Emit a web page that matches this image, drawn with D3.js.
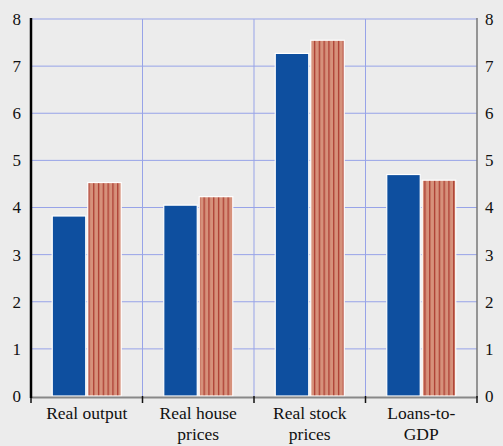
<!DOCTYPE html>
<html>
<head>
<meta charset="utf-8">
<style>
body { margin: 0; background: #ececec; }
svg { display: block; }
</style>
</head>
<body>
<svg width="503" height="446"></svg>
<script src="https://d3js.org/d3.v7.min.js"></script>
<script>
// chart values
var categories = [["Real output"], ["Real house", "prices"], ["Real stock", "prices"], ["Loans-to-", "GDP"]];
var seriesA = [3.82, 4.05, 7.27, 4.70];
var seriesB = [4.53, 4.23, 7.55, 4.58];
var yTicks = [0, 1, 2, 3, 4, 5, 6, 7, 8];

var serif = "Times New Roman, Liberation Serif, Tinos, serif";

var svg = d3.select("svg"),
    plotLeft = 31, plotRight = 477, plotTop = 19, plotBottom = 396;

svg.append("rect").attr("width", 503).attr("height", 446).attr("fill", "#ececec");

var defs = svg.append("defs");
var pat = defs.append("pattern")
    .attr("id", "stripes")
    .attr("patternUnits", "userSpaceOnUse")
    .attr("width", 4.8).attr("height", 10);
pat.append("rect").attr("width", 4.8).attr("height", 10).attr("fill", "#d6917b");
pat.append("rect").attr("x", 2).attr("width", 1.2).attr("height", 10).attr("fill", "#a9362b");

var x = d3.scaleBand().domain(d3.range(categories.length)).range([plotLeft, plotRight]);
var y = d3.scaleLinear().domain([0, 8]).range([plotBottom, plotTop]);

// grid
svg.append("g").selectAll("line").data(yTicks.slice(1)).enter().append("line")
    .attr("x1", plotLeft).attr("x2", plotRight)
    .attr("y1", function(d) { return y(d); }).attr("y2", function(d) { return y(d); })
    .attr("stroke", "#97a3e8").attr("stroke-width", 1);
svg.append("g").selectAll("line").data(d3.range(1, categories.length)).enter().append("line")
    .attr("x1", function(i) { return x(i); }).attr("x2", function(i) { return x(i); })
    .attr("y1", plotTop).attr("y2", plotBottom)
    .attr("stroke", "#97a3e8").attr("stroke-width", 1);

// bars
var bw = 33.5;
var g = svg.append("g");
g.selectAll(".a").data(seriesA).enter().append("rect")
    .attr("x", function(d, i) { return x(i) + x.bandwidth() / 2 - bw - 1; })
    .attr("y", function(d) { return y(d); })
    .attr("width", bw).attr("height", function(d) { return plotBottom - y(d); })
    .attr("fill", "#0e4f9f").attr("stroke", "#fff").attr("stroke-width", 1.2);
g.selectAll(".b").data(seriesB).enter().append("rect")
    .attr("x", function(d, i) { return x(i) + x.bandwidth() / 2 + 1; })
    .attr("y", function(d) { return y(d); })
    .attr("width", bw).attr("height", function(d) { return plotBottom - y(d); })
    .attr("fill", "url(#stripes)").attr("stroke", "#fff").attr("stroke-width", 1.2);

// axes
svg.append("line").attr("x1", plotRight).attr("x2", plotRight).attr("y1", plotTop - 1).attr("y2", plotBottom + 2)
    .attr("stroke", "#777").attr("stroke-width", 1.5);
svg.append("line").attr("x1", plotLeft).attr("x2", plotRight).attr("y1", plotBottom + 1.5).attr("y2", plotBottom + 1.5)
    .attr("stroke", "#888").attr("stroke-width", 2);
svg.append("g").selectAll("line").data(d3.range(categories.length + 1)).enter().append("line")
    .attr("x1", function(i) { return plotLeft + i * x.bandwidth(); })
    .attr("x2", function(i) { return plotLeft + i * x.bandwidth(); })
    .attr("y1", plotBottom).attr("y2", plotBottom + 7)
    .attr("stroke", "#111").attr("stroke-width", 1.5);
svg.append("line").attr("x1", plotLeft).attr("x2", plotLeft).attr("y1", plotTop - 1).attr("y2", plotBottom + 2)
    .attr("stroke", "#000").attr("stroke-width", 2.5);

// tick labels
svg.append("g").selectAll("text").data(yTicks).enter().append("text")
    .attr("x", 21).attr("y", function(d) { return y(d); }).attr("dy", "0.35em")
    .style("font-family", serif).attr("fill", "#111")
    .attr("text-anchor", "end").attr("font-size", 17).text(function(d) { return d; });
svg.append("g").selectAll("text").data(yTicks).enter().append("text")
    .attr("x", 485).attr("y", function(d) { return y(d); }).attr("dy", "0.35em")
    .style("font-family", serif).attr("fill", "#111")
    .attr("text-anchor", "start").attr("font-size", 17).text(function(d) { return d; });

var labels = svg.append("g").selectAll("text").data(categories).enter().append("text")
    .attr("text-anchor", "middle").attr("font-size", 17.5)
    .style("font-family", serif).attr("fill", "#111")
    .attr("x", function(d, i) { return x(i) + x.bandwidth() / 2; })
    .attr("y", 419);
labels.selectAll("tspan").data(function(d) { return d; }).enter().append("tspan")
    .attr("x", function() { return this.parentNode.getAttribute("x"); })
    .attr("dy", function(d, j) { return j ? 21 : 0; })
    .text(function(d) { return d; });
</script>
</body>
</html>
